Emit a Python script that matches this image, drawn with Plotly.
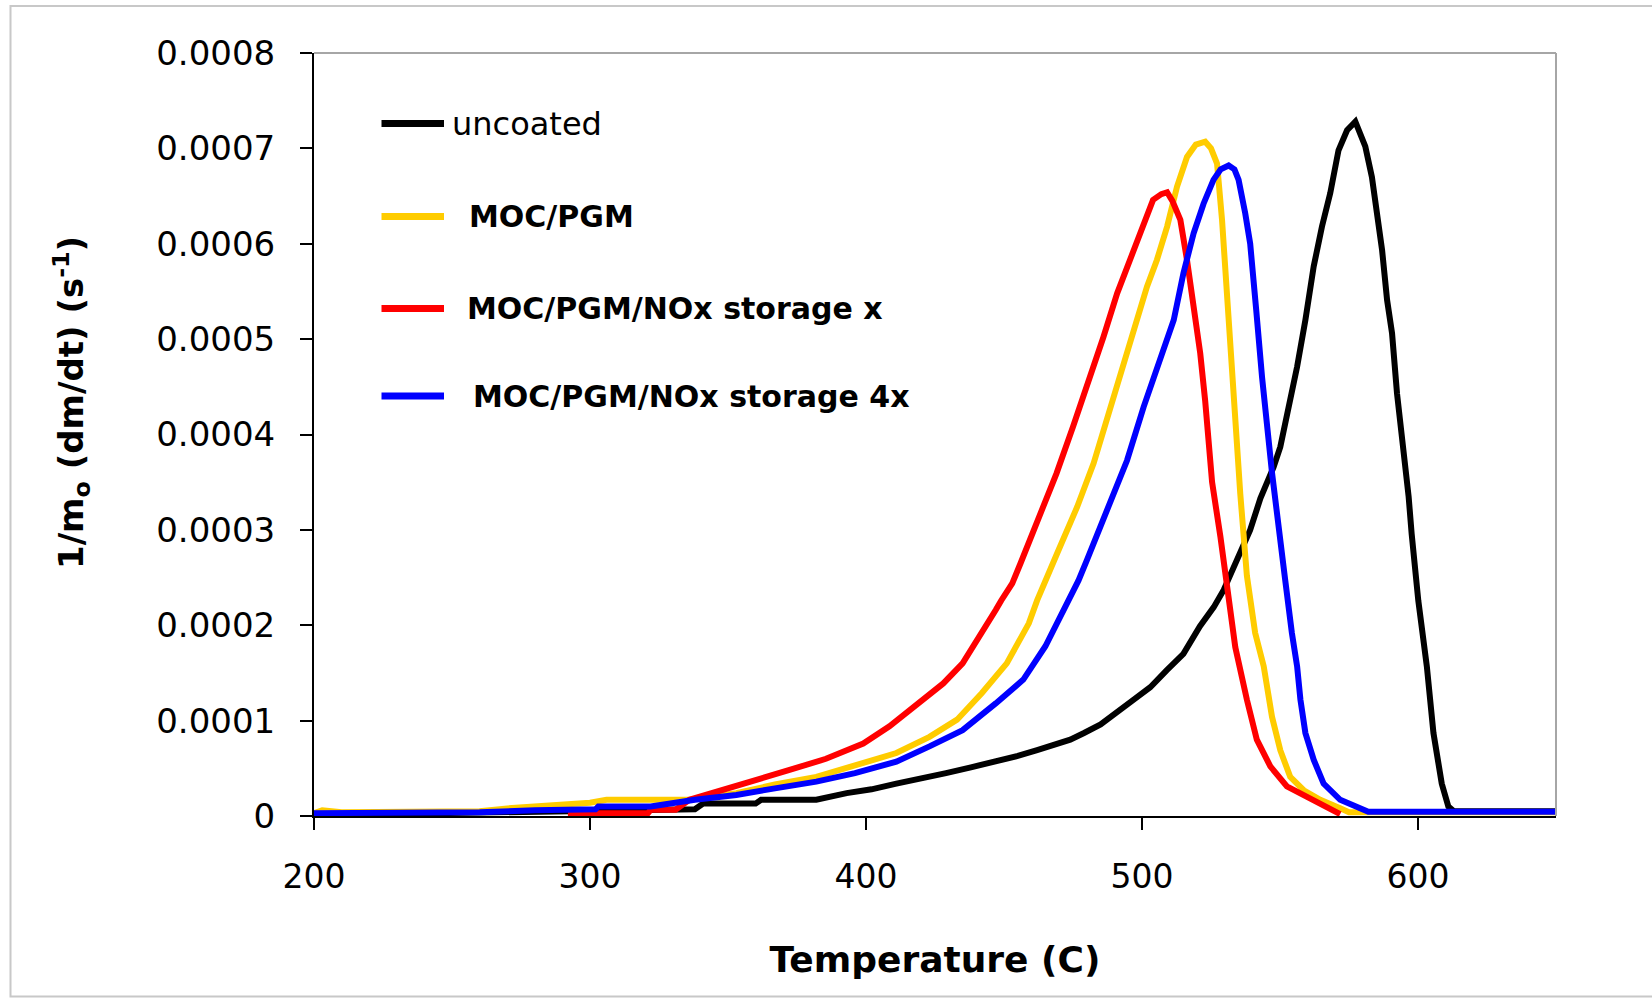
import plotly.graph_objects as go

# ---------------- data ----------------
temp_uncoated = [200, 230, 260, 290, 310, 338, 341, 360, 362, 382, 393, 402, 411, 420, 429, 438, 447, 455,
                 462, 468, 474, 479, 485, 497, 503, 509, 515, 521, 526, 529.6, 533.2, 536.8, 539.2, 542.9,
                 545.3, 547.7, 550.1, 552.5, 553.7, 556.2, 559.2, 562.2, 565.2, 568.2, 571.2, 574.3, 577.3,
                 580.9, 583.3, 585.1, 587, 588.8, 590.6, 592.4, 594.8, 596.6, 597.7, 600.1, 603.2, 605.6,
                 608.6, 611, 613, 650]
val_uncoated = [0.01e-4, 0.02e-4, 0.03e-4, 0.04e-4, 0.06e-4, 0.07e-4, 0.13e-4, 0.13e-4, 0.17e-4, 0.17e-4,
                0.24e-4, 0.28e-4, 0.34e-4, 0.39e-4, 0.45e-4, 0.51e-4, 0.57e-4, 0.63e-4, 0.69e-4, 0.74e-4,
                0.80e-4, 0.87e-4, 0.96e-4, 1.22e-4, 1.35e-4, 1.53e-4, 1.70e-4, 1.99e-4, 2.19e-4, 2.37e-4,
                2.61e-4, 2.86e-4, 3.00e-4, 3.33e-4, 3.49e-4, 3.66e-4, 3.87e-4, 4.20e-4, 4.36e-4, 4.71e-4,
                5.20e-4, 5.76e-4, 6.18e-4, 6.53e-4, 6.98e-4, 7.19e-4, 7.28e-4, 7.02e-4, 6.70e-4, 6.32e-4,
                5.93e-4, 5.41e-4, 5.06e-4, 4.43e-4, 3.84e-4, 3.35e-4, 2.96e-4, 2.26e-4, 1.57e-4, 0.87e-4,
                0.34e-4, 0.10e-4, 0.05e-4, 0.05e-4]

temp_pgm = [200, 203, 210, 240, 260, 270, 280, 290, 300, 306, 336, 353, 367, 382, 396, 411, 423, 433, 442,
            451, 459, 462, 469.2, 476.5, 482.5, 487.3, 492.1, 497, 501.8, 505.4, 509.1, 512.7, 516.3, 519.5,
            522.9, 525, 527.2, 529, 530.2, 532, 533.2, 534.4, 535.6, 538, 541, 544.1, 547.1, 550.1, 553.7,
            558.6, 564.6, 571.8, 575, 650]
val_pgm = [0.03e-4, 0.06e-4, 0.04e-4, 0.04e-4, 0.05e-4, 0.08e-4, 0.10e-4, 0.13e-4, 0.14e-4, 0.17e-4,
           0.17e-4, 0.24e-4, 0.33e-4, 0.41e-4, 0.53e-4, 0.66e-4, 0.83e-4, 1.01e-4, 1.29e-4, 1.60e-4,
           2.02e-4, 2.26e-4, 2.75e-4, 3.24e-4, 3.70e-4, 4.15e-4, 4.61e-4, 5.06e-4, 5.55e-4, 5.83e-4,
           6.18e-4, 6.60e-4, 6.91e-4, 7.04e-4, 7.07e-4, 7.00e-4, 6.84e-4, 6.25e-4, 5.72e-4, 5.02e-4,
           4.35e-4, 3.85e-4, 3.38e-4, 2.52e-4, 1.92e-4, 1.57e-4, 1.04e-4, 0.69e-4, 0.41e-4, 0.27e-4,
           0.17e-4, 0.08e-4, 0.04e-4, 0.04e-4]

temp_nox_x = [292, 321, 322, 331, 336, 347, 359, 372, 385.5, 399, 408.5, 418, 428, 435, 442, 447, 449, 453,
              456, 463, 469, 475, 481, 486, 491, 496, 500.6, 504, 507, 509.1, 511, 513.9, 516.3, 518.7,
              521.1, 522.9, 525.4, 528.4, 530.8, 533.8, 538, 541.6, 546.5, 552.5, 559.8, 567, 571.8]
val_nox_x = [0.03e-4, 0.03e-4, 0.065e-4, 0.065e-4, 0.17e-4, 0.26e-4, 0.36e-4, 0.48e-4, 0.60e-4, 0.76e-4,
             0.94e-4, 1.15e-4, 1.39e-4, 1.60e-4, 1.91e-4, 2.16e-4, 2.26e-4, 2.44e-4, 2.65e-4, 3.17e-4,
             3.59e-4, 4.08e-4, 4.57e-4, 5.02e-4, 5.48e-4, 5.86e-4, 6.21e-4, 6.46e-4, 6.52e-4, 6.54e-4,
             6.45e-4, 6.25e-4, 5.83e-4, 5.34e-4, 4.85e-4, 4.35e-4, 3.50e-4, 2.93e-4, 2.40e-4, 1.77e-4,
             1.22e-4, 0.80e-4, 0.52e-4, 0.31e-4, 0.20e-4, 0.10e-4, 0.02e-4]

temp_nox_4x = [200, 260, 280, 290, 302, 303, 322, 338, 353, 367, 382, 396, 411, 423, 435, 447, 457, 465,
               473, 477, 480, 487, 494.6, 500.6, 506.6, 511.5, 515, 518.7, 522.3, 525.9, 528.5, 531.4,
               533.5, 535, 537.4, 539.2, 541.4, 543.5, 547.1, 550.1, 551.9, 554.3, 556.2, 557.4, 559.2,
               562.2, 565.8, 571.8, 579, 582, 650]
val_nox_4x = [0.03e-4, 0.04e-4, 0.06e-4, 0.07e-4, 0.07e-4, 0.10e-4, 0.10e-4, 0.17e-4, 0.22e-4, 0.29e-4,
              0.36e-4, 0.45e-4, 0.57e-4, 0.73e-4, 0.90e-4, 1.18e-4, 1.43e-4, 1.78e-4, 2.22e-4, 2.47e-4,
              2.68e-4, 3.17e-4, 3.73e-4, 4.29e-4, 4.78e-4, 5.20e-4, 5.69e-4, 6.11e-4, 6.42e-4, 6.67e-4,
              6.78e-4, 6.82e-4, 6.78e-4, 6.67e-4, 6.32e-4, 6.00e-4, 5.30e-4, 4.60e-4, 3.60e-4, 2.96e-4,
              2.47e-4, 1.92e-4, 1.57e-4, 1.22e-4, 0.87e-4, 0.59e-4, 0.34e-4, 0.17e-4, 0.08e-4, 0.045e-4,
              0.045e-4]

series_names = ["uncoated", "MOC/PGM", "MOC/PGM/NOx storage x", "MOC/PGM/NOx storage 4x"]
series_colors = ["#000000", "#FFCC00", "#FF0000", "#0000FF"]

y_tick_vals = [0, 0.0001, 0.0002, 0.0003, 0.0004, 0.0005, 0.0006, 0.0007, 0.0008]
y_tick_text = ["0", "0.0001", "0.0002", "0.0003", "0.0004", "0.0005", "0.0006", "0.0007", "0.0008"]
x_tick_vals = [200, 300, 400, 500, 600]
x_title = "Temperature (C)"
y_title = "1/m<sub>o</sub> (dm/dt) (s<sup>-1</sup>)"

# ---------------- figure ----------------
W, H = 1652, 998
L, R, T, B = 314, 96, 53, 182
FONT = "DejaVu Sans"

fig = go.Figure()
xs = [temp_uncoated, temp_pgm, temp_nox_x, temp_nox_4x]
ys = [val_uncoated, val_pgm, val_nox_x, val_nox_4x]
for name, color, x, y in zip(series_names, series_colors, xs, ys):
    fig.add_trace(go.Scatter(x=x, y=y, mode="lines", name=name,
                             line=dict(color=color, width=6), showlegend=False))

pw, ph = W - L - R, H - T - B


def px_x(p):
    return (p - L) / pw


def px_y(p):
    return (H - B - p) / ph


# manual legend (positions in pixels on the page)
legend_line_y = [123.5, 216.5, 308.5, 396]
legend_text_x = [450, 467, 465, 471]
legend_bold = [False, True, True, True]
legend_size = [32, 30, 30, 30]
shapes = []
annotations = []
for name, color, ly, tx, bold, fs in zip(series_names, series_colors, legend_line_y, legend_text_x,
                                          legend_bold, legend_size):
    shapes.append(dict(type="line", xref="paper", yref="paper", x0=px_x(381.5), x1=px_x(444),
                       y0=px_y(ly), y1=px_y(ly), line=dict(color=color, width=7)))
    annotations.append(dict(xref="paper", yref="paper", x=px_x(tx), y=px_y(ly), xanchor="left",
                            yanchor="middle", showarrow=False,
                            text=("<b>%s</b>" % name) if bold else name,
                            font=dict(family=FONT, size=fs, color="black")))

# y-axis title (placed as in the reference, slightly above the plot centre)
annotations.append(dict(xref="paper", yref="paper", x=px_x(71), y=px_y(403), xanchor="center",
                        yanchor="middle", showarrow=False, textangle=-90,
                        text="<b>%s</b>" % y_title,
                        font=dict(family=FONT, size=34, color="black")))

# gray top/right border of plot area
shapes.append(dict(type="line", xref="paper", yref="paper", x0=0, x1=1, y0=1, y1=1,
                   line=dict(color="#A6A6A6", width=2)))
shapes.append(dict(type="line", xref="paper", yref="paper", x0=1, x1=1, y0=0, y1=1,
                   line=dict(color="#A6A6A6", width=2)))
# outer chart frame
shapes.append(dict(type="rect", xref="paper", yref="paper", x0=px_x(10.5), x1=px_x(1665),
                   y0=px_y(996.5), y1=px_y(6), line=dict(color="#C8C8C8", width=2),
                   fillcolor="rgba(0,0,0,0)", layer="below"))

fig.update_layout(
    width=W, height=H,
    margin=dict(l=L, r=R, t=T, b=B, pad=0),
    paper_bgcolor="white", plot_bgcolor="white",
    font=dict(family=FONT, color="black"),
    shapes=shapes, annotations=annotations,
    xaxis=dict(range=[200, 650], tickvals=x_tick_vals, ticks="outside", ticklen=12, tickwidth=2,
               tickcolor="black", showline=True, linecolor="black", linewidth=2, showgrid=False,
               zeroline=False, tickfont=dict(family=FONT, size=33, color="black"),
               ticklabelstandoff=18,
               title=dict(text="<b>%s</b>" % x_title, font=dict(family=FONT, size=36, color="black"),
                          standoff=52)),
    yaxis=dict(range=[0, 0.0008], tickvals=y_tick_vals, ticktext=y_tick_text, ticks="outside",
               ticklen=12, tickwidth=2, tickcolor="black", showline=True, linecolor="black",
               linewidth=2, showgrid=False, zeroline=False,
               tickfont=dict(family=FONT, size=34, color="black"), ticklabelstandoff=18),
)

fig.write_html("out.html")
